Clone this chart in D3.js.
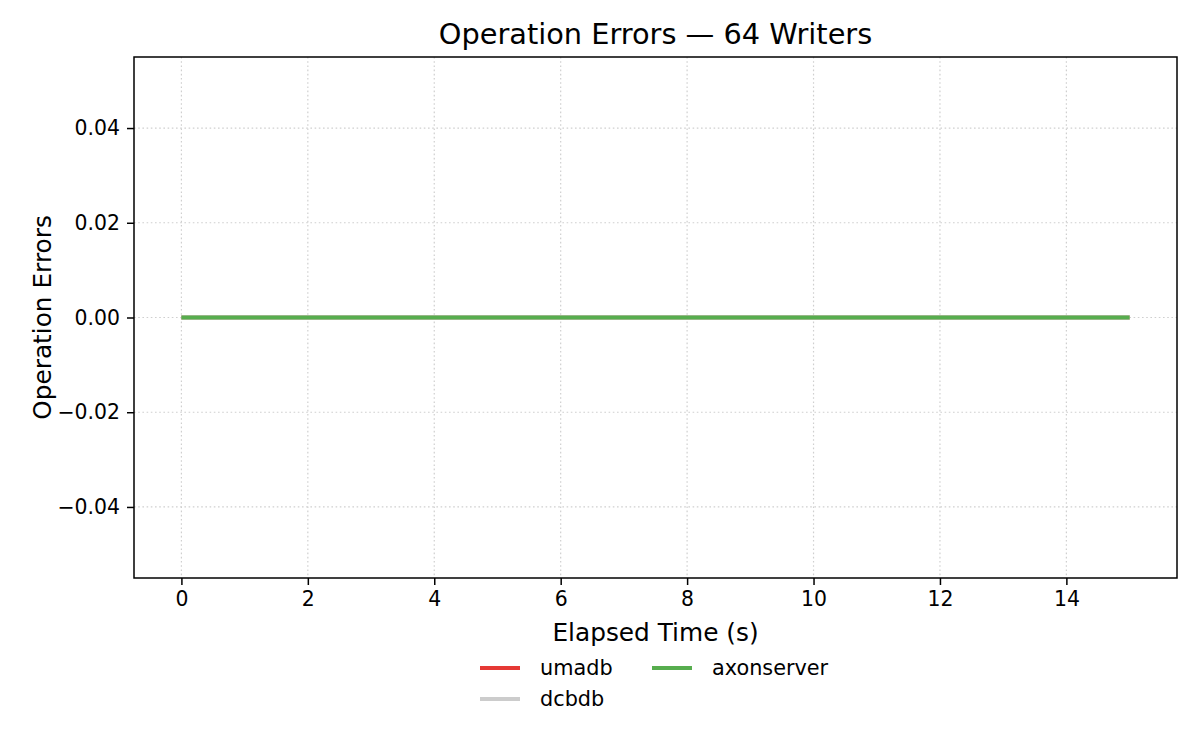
<!DOCTYPE html>
<html><head><meta charset="utf-8">
<script src="https://cdn.jsdelivr.net/npm/d3@7"></script>
<style>body{margin:0;background:#fff;} text{font-family:"DejaVu Sans",sans-serif;}</style>
</head><body>
<svg id="c" width="1200" height="750"></svg>
<script>
const times = [0,1,2,3,4,5,6,7,8,9,10,11,12,13,14,15];
const umadb = [0,0,0,0,0,0,0,0,0,0,0,0,0,0,0,0];
const dcbdb = [0,0,0,0,0,0,0,0,0,0,0,0,0,0,0,0];
const axonserver = [0,0,0,0,0,0,0,0,0,0,0,0,0,0,0,0];
const seriesNames = ["umadb","dcbdb","axonserver"];
const seriesColors = ["#e53935","#cccccc","#57ad4e"];
const xTicks = [0,2,4,6,8,10,12,14];
const yTicks = [-0.04,-0.02,0,0.02,0.04];
const title = "Operation Errors — 64 Writers";
const xLabel = "Elapsed Time (s)";
const yLabel = "Operation Errors";

const seriesData = [umadb, dcbdb, axonserver];
const svg = d3.select("#c");
const L=134, R=1177, T=57, B=578;
const x = d3.scaleLinear().domain([-0.75,15.75]).range([L,R]);
const y = d3.scaleLinear().domain([-0.055,0.055]).range([B,T]);

// grid
const g = svg.append("g");
g.selectAll(".gx").data(xTicks).enter().append("line")
 .attr("x1",d=>x(d)).attr("x2",d=>x(d)).attr("y1",T).attr("y2",B)
 .attr("stroke","#cfcfcf").attr("stroke-width",1.2).attr("stroke-dasharray","1.6,2.6");
g.selectAll(".gy").data(yTicks).enter().append("line")
 .attr("y1",d=>y(d)).attr("y2",d=>y(d)).attr("x1",L).attr("x2",R)
 .attr("stroke","#cfcfcf").attr("stroke-width",1.2).attr("stroke-dasharray","1.6,2.6");

// lines
const line = d3.line().x((d,i)=>x(times[i])).y(d=>y(d));
const widths = [3.8,4.4,3.8];
seriesData.forEach((s,k)=>{
  svg.append("path").datum(s).attr("d",line).attr("fill","none")
   .attr("stroke",seriesColors[k]).attr("stroke-width",widths[k]);
});

// axes
const xa = svg.append("g").attr("transform",`translate(0,${B})`)
 .call(d3.axisBottom(x).tickValues(xTicks).tickFormat(d3.format("d")).tickSizeOuter(0).tickSize(7).tickPadding(7));
const fmtY = d=> (d<0?"\u2212":"")+Math.abs(d).toFixed(2);
const ya = svg.append("g").attr("transform",`translate(${L},0)`)
 .call(d3.axisLeft(y).tickValues(yTicks).tickFormat(fmtY).tickSizeOuter(0).tickSize(7).tickPadding(7));
[xa,ya].forEach(a=>{
  a.select(".domain").remove();
  a.attr("font-size",null).attr("font-family",null);
  a.selectAll("text").style("font-size","20.4px").style("font-family","DejaVu Sans").attr("fill","#000");
  a.selectAll("line").attr("stroke","#000").attr("stroke-width",1.5);
});
svg.append("rect").attr("x",L).attr("y",T).attr("width",R-L).attr("height",B-T)
 .attr("fill","none").attr("stroke","#000").attr("stroke-width",1.5);

// labels
svg.append("text").attr("x",(L+R)/2).attr("y",44).attr("text-anchor","middle")
 .style("font-size","28.8px").text(title);
svg.append("text").attr("x",(L+R)/2).attr("y",641).attr("text-anchor","middle")
 .style("font-size","24.8px").text(xLabel);
svg.append("text").attr("transform",`translate(51,${(T+B)/2}) rotate(-90)`).attr("text-anchor","middle")
 .style("font-size","24.8px").text(yLabel);

// legend
const leg = svg.append("g");
const pos = [[480,668],[480,699],[652,668]];
seriesNames.forEach((n,k)=>{
  const [lx,ly]=pos[k];
  leg.append("line").attr("x1",lx).attr("x2",lx+40).attr("y1",ly).attr("y2",ly)
   .attr("stroke",seriesColors[k]).attr("stroke-width",3.8);
  leg.append("text").attr("x",lx+60).attr("y",ly+7).style("font-size","20.8px").text(n);
});
</script>
</body></html>
